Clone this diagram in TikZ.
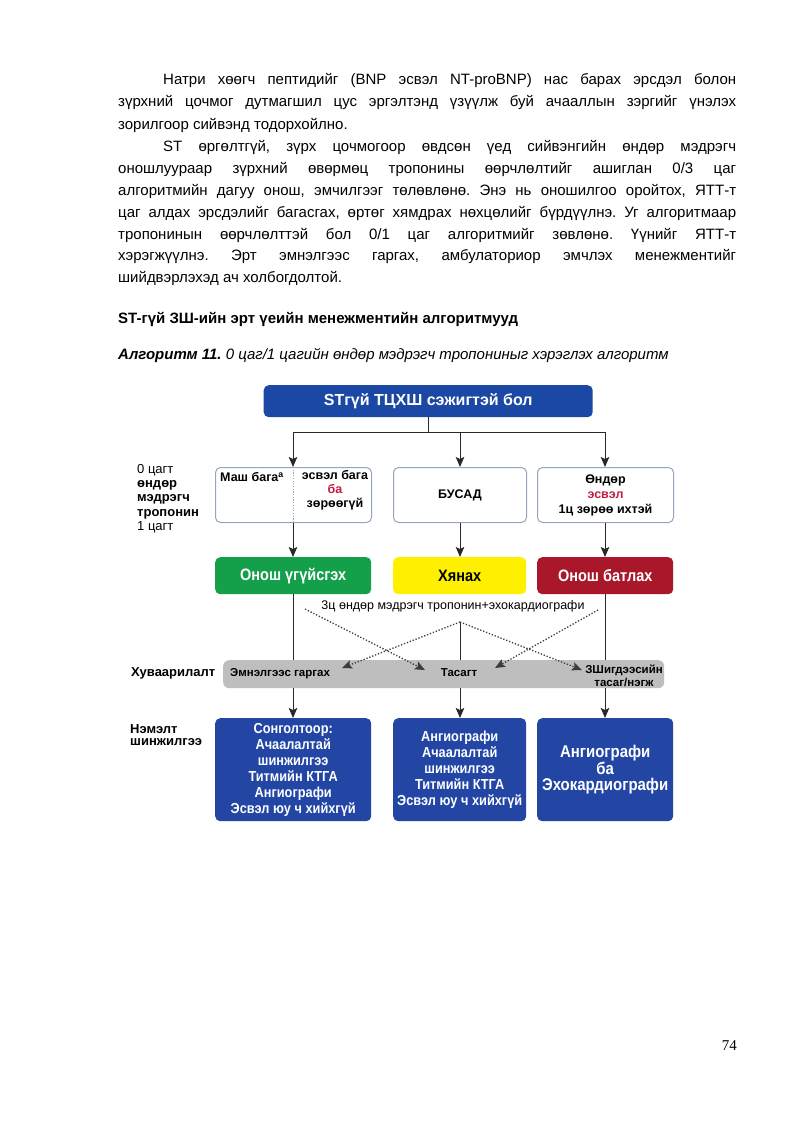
\documentclass[tikz,border=0pt]{standalone}
\usepackage{fontspec}
\setmainfont{Liberation Sans}
\newfontfamily\narrowfont[FakeStretch=0.88]{Liberation Sans}
\newfontfamily\serifont{Liberation Serif}
\usetikzlibrary{arrows.meta}
\definecolor{boxblue}{RGB}{35,70,165}
\definecolor{topblue}{RGB}{28,72,165}
\definecolor{okgreen}{RGB}{20,160,75}
\definecolor{warnyellow}{RGB}{255,240,0}
\definecolor{darkred}{RGB}{168,24,42}
\definecolor{barfill}{RGB}{190,190,190}
\definecolor{bordergray}{RGB}{150,165,190}
\definecolor{pinkred}{RGB}{195,30,65}
\definecolor{linegray}{RGB}{40,40,40}
\definecolor{dotgray}{RGB}{60,60,60}
\frenchspacing
\begin{document}
\begin{tikzpicture}[x=1pt,y=-1pt,
  bodytxt/.style={anchor=base west, inner sep=0, font=\fontsize{15}{18}\selectfont},
  conn/.style={draw=linegray, line width=1pt},
  arr/.style={conn, -{Stealth[length=10pt,width=8.5pt,inset=2pt]}},
  dotarr/.style={draw=dotgray, line width=1.3pt, dash pattern=on 1.3pt off 1.8pt, -{Stealth[length=10pt,width=8.5pt,inset=2pt]}},
  wbox/.style={draw=bordergray, line width=1pt, rounded corners=5pt, fill=white, anchor=north west, inner sep=0},
  cbox/.style={rounded corners=5pt, anchor=north west, inner sep=0, align=center},
  rowtxt/.style={font=\bfseries\fontsize{12.5}{14}\selectfont, inner sep=0, align=center},
  sidelbl/.style={anchor=west, inner sep=0, align=left, font=\bfseries\fontsize{13}{12.5}\selectfont},
  bartxt/.style={inner sep=0, align=center, font=\bfseries\fontsize{11.5}{13}\selectfont}
]
\useasboundingbox (0,0) rectangle (793,1121);
\fill[white] (0,0) rectangle (793,1121);

% ---------- body text ----------
\node[bodytxt] (p1) at (163,85) {\makebox[573pt][s]{Натри хөөгч пептидийг (BNP эсвэл NT-proBNP) нас барах эрсдэл болон}};
\node[bodytxt] (p2) at (118,107) {\makebox[618pt][s]{зүрхний цочмог дутмагшил цус эргэлтэнд үзүүлж буй ачааллын зэргийг үнэлэх}};
\node[bodytxt] (p3) at (118,129) {зорилгоор сийвэнд тодорхойлно.};
\node[bodytxt] (p4) at (163,151) {\makebox[573pt][s]{ST өргөлтгүй, зүрх цочмогоор өвдсөн үед сийвэнгийн өндөр мэдрэгч}};
\node[bodytxt] (p5) at (118,173) {\makebox[618pt][s]{оношлуураар зүрхний өвөрмөц тропонины өөрчлөлтийг ашиглан 0/3 цаг}};
\node[bodytxt] (p6) at (118,195) {\makebox[618pt][s]{алгоритмийн дагуу онош, эмчилгээг төлөвлөнө. Энэ нь оношилгоо оройтох, ЯТТ-т}};
\node[bodytxt] (p7) at (118,217) {\makebox[618pt][s]{цаг алдах эрсдэлийг багасгах, өртөг хямдрах нөхцөлийг бүрдүүлнэ. Уг алгоритмаар}};
\node[bodytxt] (p8) at (118,239) {\makebox[618pt][s]{тропонинын өөрчлөлттэй бол 0/1 цаг алгоритмийг зөвлөнө. Үүнийг ЯТТ-т}};
\node[bodytxt] (p9) at (118,260) {\makebox[618pt][s]{хэрэгжүүлнэ. Эрт эмнэлгээс гаргах, амбулаториор эмчлэх менежментийг}};
\node[bodytxt] (p10) at (118,282) {шийдвэрлэхэд ач холбогдолтой.};
\node[bodytxt, font=\bfseries\fontsize{15}{18}\selectfont] (head) at (118,323) {ST-гүй ЗШ-ийн эрт үеийн менежментийн алгоритмууд};
\node[bodytxt] (cap) at (118,359) {{\bfseries\itshape Алгоритм 11.} {\itshape 0 цаг/1 цагийн өндөр мэдрэгч тропониныг хэрэглэх алгоритм}};

% ---------- diagram ----------
\node[cbox, fill=topblue, minimum width=329pt, minimum height=32pt, text=white,
      font=\bfseries\fontsize{16}{18}\selectfont] (top) at (263.5,385) {STгүй ТЦХШ сэжигтэй бол};

\coordinate (j) at (428,432);
\coordinate (jl) at (293,432);
\coordinate (jm) at (460,432);
\coordinate (jr) at (605,432);

% row 2
\node[wbox, minimum width=156pt, minimum height=55pt] (b1) at (215,467) {};
\node[wbox, minimum width=133pt, minimum height=55pt] (b2) at (393,467) {};
\node[wbox, minimum width=136pt, minimum height=55pt] (b3) at (537,467) {};
\draw[bordergray, line width=1pt, dash pattern=on 1.2pt off 1.5pt] (b1.north -| jl) -- (b1.south -| jl);
\node[rowtxt, anchor=west] (b1l) at (220,477) {Маш бага\textsuperscript{а}};
\node[rowtxt] (b1r) at (335,490) {эсвэл бага\\\textcolor{pinkred}{ба}\\зөрөөгүй};
\node[rowtxt] (b2t) at (b2.center) {БУСАД};
\node[rowtxt, font=\bfseries\fontsize{12.5}{15}\selectfont] (b3t) at (b3.center) {Өндөр\\\textcolor{pinkred}{эсвэл}\\1ц зөрөө ихтэй};

% side labels
\node[sidelbl, font=\bfseries\fontsize{13}{14.3}\selectfont] (lbl0) at (137,498.5)
      {{\mdseries 0 цагт}\\өндөр\\мэдрэгч\\тропонин\\{\mdseries 1 цагт}};

% row 3
\node[cbox, fill=okgreen, minimum width=156pt, minimum height=37pt, text=white,
      font=\narrowfont\bfseries\fontsize{16.5}{18}\selectfont] (g1) at (215,557) {Онош үгүйсгэх};
\node[cbox, fill=warnyellow, minimum width=133pt, minimum height=37pt, text=black,
      font=\narrowfont\bfseries\fontsize{16.5}{18}\selectfont] (g2) at (393,557) {Хянах};
\node[cbox, fill=darkred, minimum width=136pt, minimum height=37pt, text=white,
      font=\narrowfont\bfseries\fontsize{16.5}{18}\selectfont] (g3) at (537,557) {Онош батлах};

\node[inner sep=0, font=\fontsize{12.5}{14}\selectfont] (note) at (453,606) {3ц өндөр мэдрэгч тропонин+эхокардиографи};

% gray bar
\node[cbox, fill=barfill, minimum width=441pt, minimum height=28pt, rounded corners=6pt] (bar) at (223,660) {};
\node[sidelbl] (lbl1) at (131,673) {Хуваарилалт};
\node[bartxt, anchor=west] (bt1) at (230,674) {Эмнэлгээс гаргах};
\node[bartxt] (bt2) at (459,673) {Тасагт};
\node[bartxt, font=\bfseries\fontsize{11.5}{12.5}\selectfont] (bt3) at (624,676) {ЗШигдээсийн\\тасаг/нэгж};

% bottom boxes
\node[cbox, fill=boxblue, minimum width=156pt, minimum height=103pt, text=white,
      font=\narrowfont\bfseries\fontsize{14.5}{16}\selectfont] (d1) at (215,718)
      {Сонголтоор:\\Ачаалалтай\\шинжилгээ\\Титмийн КТГА\\Ангиографи\\Эсвэл юу ч хийхгүй};
\node[cbox, fill=boxblue, minimum width=133pt, minimum height=103pt, text=white,
      font=\narrowfont\bfseries\fontsize{14.5}{16}\selectfont] (d2) at (393,718)
      {Ангиографи\\Ачаалалтай\\шинжилгээ\\Титмийн КТГА\\Эсвэл юу ч хийхгүй};
\node[cbox, fill=boxblue, minimum width=136pt, minimum height=103pt, text=white,
      font=\narrowfont\bfseries\fontsize{17}{15.5}\selectfont] (d3) at (537,718)
      {Ангиографи\\ба\\Эхокардиографи};
\node[sidelbl] (lbl2) at (130,735) {Нэмэлт\\шинжилгээ};

% ---------- connectors ----------
\draw[conn] (top.south -| j) -- (j);
\draw[conn] (jl) -- (jr);
\draw[arr] (jl) -- (b1.north -| jl);
\draw[arr] (jm) -- (b2.north -| jm);
\draw[arr] (jr) -- (b3.north -| jr);

\draw[arr] (b1.south -| jl) -- (g1.north -| jl);
\draw[arr] (b2.south -| jm) -- (g2.north -| jm);
\draw[arr] (b3.south -| jr) -- (g3.north -| jr);

\coordinate (mid) at (460,622);
\draw[conn] (g1.south -| jl) -- (bar.north -| jl);
\draw[conn] (mid) -- (bar.north -| mid);
\draw[conn] (g3.south -| jr) -- (bar.north -| jr);

\coordinate (dl) at (305,609);
\coordinate (dr) at (598,610);
\coordinate (t1) at (425,670);
\coordinate (t2) at (495,668);
\coordinate (t3) at (342,668);
\coordinate (t4) at (582,670);
\draw[dotarr] (dl) -- (t1);
\draw[dotarr] (dr) -- (t2);
\draw[dotarr] (mid) -- (t3);
\draw[dotarr] (mid) -- (t4);

\draw[arr] (bar.south -| jl) -- (d1.north -| jl);
\draw[arr] (bar.south -| jm) -- (d2.north -| jm);
\draw[arr] (bar.south -| jr) -- (d3.north -| jr);

% page number
\node[anchor=base east, inner sep=0, font=\serifont\fontsize{15}{18}\selectfont] (pgnum) at (737,1050) {74};
\end{tikzpicture}
\end{document}
